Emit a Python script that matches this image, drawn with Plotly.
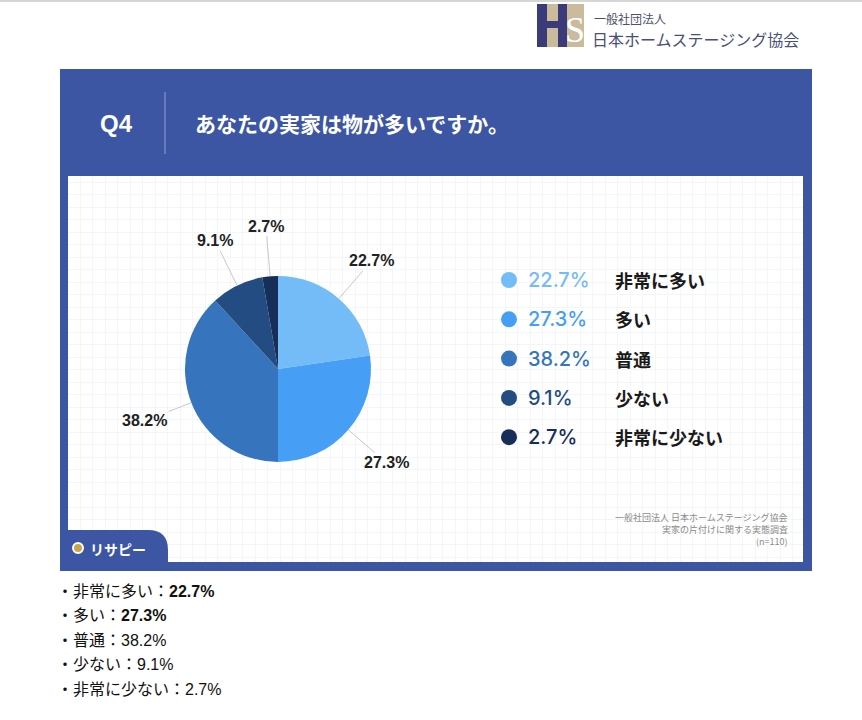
import math
import plotly.graph_objects as go

W, H = 862, 720

# ---- data ----
categories = ["非常に多い", "多い", "普通", "少ない", "非常に少ない"]
values = [22.7, 27.3, 38.2, 9.1, 2.7]
colors = ["#74BCF7", "#479EF5", "#3675BD", "#234D82", "#172E58"]
bold_in_list = [True, True, False, False, False]
title_q = "Q4"
title_text = "あなたの実家は物が多いですか。"
source_lines = ["一般社団法人 日本ホームステージング協会", "実家の片付けに関する実態調査", "(n=110)"]

PANEL = "#3D56A3"
JP = "Noto Sans CJK JP"
LAT = "Liberation Sans, Noto Sans CJK JP"


def px(x):
    return x / W


def py(y):
    return 1 - y / H


shapes = []
annotations = []


def rect(x0, y0, x1, y1, color, layer="below"):
    shapes.append(dict(type="rect", xref="paper", yref="paper", x0=px(x0), x1=px(x1),
                       y0=py(y1), y1=py(y0), fillcolor=color, line=dict(width=0), layer=layer))


def text(x, y, s, size, color, family=JP, xanchor="left", weight="normal"):
    annotations.append(dict(xref="paper", yref="paper", x=px(x), y=py(y), text=s, showarrow=False,
                            xanchor=xanchor, yanchor="middle",
                            font=dict(size=size, color=color, family=family, weight=weight)))


# top border line
rect(0, 0, W, 2, "#d6d6d6")

# logo
rect(545, 4, 584, 47, "#C9BB9C")
rect(537, 4, 547, 47, "#3A3B78")
rect(558, 4, 567, 47, "#3A3B78")
rect(547, 21, 558, 28, "#3A3B78")
text(575, 30, "S", 36, "white", family="Liberation Serif", xanchor="center")
text(592, 18, "一般社団法人", 12, "#4d5070")
text(590, 39, "日本ホームステージング協会", 16, "#4a4f78")

# panel and inner white box
rect(60, 69, 812, 571, PANEL)
rect(68, 176, 803, 562, "white")

# header
text(116, 123, title_q, 24, "white", family="Liberation Sans", xanchor="center", weight="bold")
shapes.append(dict(type="line", xref="paper", yref="paper", x0=px(165), x1=px(165), y0=py(92), y1=py(154),
                   line=dict(color="rgba(255,255,255,0.45)", width=1)))
text(193, 123, title_text, 21, "white", weight="bold")

# bottom-left tab
tab_path = (f"M {px(68)},{py(530)} L {px(148)},{py(530)} "
            f"Q {px(168)},{py(530)} {px(168)},{py(550)} L {px(168)},{py(562)} "
            f"L {px(68)},{py(562)} Z")
shapes.append(dict(type="path", xref="paper", yref="paper", path=tab_path, fillcolor=PANEL,
                   line=dict(width=0), layer="above"))
shapes.append(dict(type="circle", xref="paper", yref="paper", x0=px(73), x1=px(83), y0=py(553), y1=py(543),
                   line=dict(color="white", width=2), fillcolor="#c8a64a", layer="above"))
text(88, 549, "リサピー", 14, "white", weight="bold")

# source text
for i, s in enumerate(source_lines):
    text(790, 517 + 12 * i, s, 9, "#8a8a8a", xanchor="right")

# pie geometry
CX, CY, R = 278, 369, 93
pie_domain = dict(x=[px(CX - R), px(CX + R)], y=[py(CY + R), py(CY - R)])

fig = go.Figure()
# invisible cartesian trace to get the grid in the white box
fig.add_trace(go.Scatter(x=[], y=[], showlegend=False, hoverinfo="skip"))
fig.add_trace(go.Pie(values=values, labels=categories, sort=False, direction="clockwise",
                     rotation=0, textinfo="none", hoverinfo="label+percent",
                     marker=dict(colors=colors, line=dict(width=0)),
                     domain=pie_domain, showlegend=False))

# outside labels with leader lines
total = sum(values)
cum = 0
for v in values:
    mid = (cum + v / 2) / total * 2 * math.pi
    cum += v
    sx, sy = CX + R * math.sin(mid), CY - R * math.cos(mid)
    off = 50
    annotations.append(dict(xref="paper", yref="paper", x=px(sx), y=py(sy),
                            ax=off * math.sin(mid), ay=-off * math.cos(mid),
                            text=f"{v}%", showarrow=True, arrowhead=0, arrowwidth=1,
                            arrowcolor="#c8c8c8", standoff=0,
                            font=dict(size=16, color="#222222", family="Liberation Sans", weight="bold")))

# custom legend
for i, (c, v, col) in enumerate(zip(categories, values, colors)):
    y = 280 + 39.3 * i
    shapes.append(dict(type="circle", xref="paper", yref="paper", x0=px(501), x1=px(517),
                       y0=py(y + 8), y1=py(y - 8), fillcolor=col, line=dict(width=0), layer="above"))
    text(526, y, f"{v}%", 20, col, family="Inter, Liberation Sans", weight=500)
    text(613, y, c, 18, "#1a1a1a", weight="bold")

# bottom list
for i, (c, v, b) in enumerate(zip(categories, values, bold_in_list)):
    val = f"<b>{v}%</b>" if b else f"{v}%"
    text(55, 591 + 24.5 * i, f"・{c}：{val}", 16, "#111111", family=LAT)

fig.update_layout(
    width=W, height=H, margin=dict(l=0, r=0, t=0, b=0),
    paper_bgcolor="white", plot_bgcolor="rgba(0,0,0,0)",
    showlegend=False,
    xaxis=dict(domain=[px(68), px(803)], range=[0, 735], tick0=12, dtick=12.5,
               showgrid=True, gridcolor="#f3f5f9", gridwidth=1, zeroline=False,
               showticklabels=False, ticks="", showline=False, fixedrange=True),
    yaxis=dict(domain=[py(562), py(176)], range=[0, 386], tick0=5, dtick=12.5,
               showgrid=True, gridcolor="#f3f5f9", gridwidth=1, zeroline=False,
               showticklabels=False, ticks="", showline=False, fixedrange=True),
    shapes=shapes, annotations=annotations,
)

fig.write_html("out.html", config={"displayModeBar": False},
               post_script="document.body.style.margin='0px';document.body.style.overflow='hidden';")
